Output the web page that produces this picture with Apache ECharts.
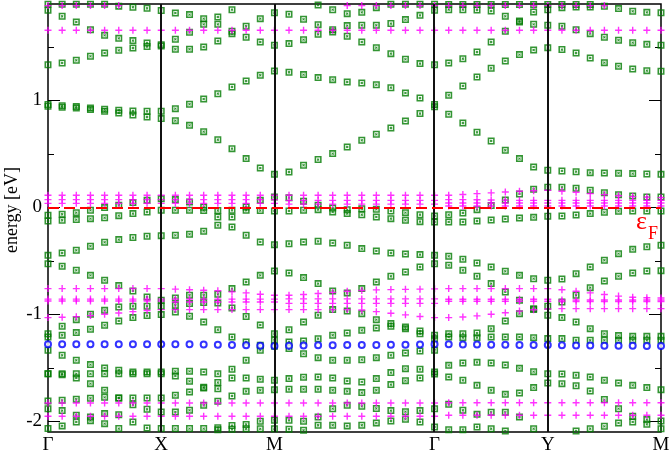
<!DOCTYPE html>
<html>
<head>
<meta charset="utf-8">
<title>band structure</title>
<script src="https://cdn.jsdelivr.net/npm/echarts@6/dist/echarts.min.js"></script>
<style>
  html, body { margin: 0; padding: 0; background: #fff; }
  #bandChart { width: 671px; height: 454px; }
</style>
</head>
<body>
<div id="bandChart"></div>
<script>
// k-path: Γ-X (8 steps), X-M (8), M-Γ (11), Γ-Y (8), Y-M (8)
var kPath = [
  0, 0.125, 0.25, 0.375, 0.5, 0.625, 0.75, 0.875, 1,
  1.125, 1.25, 1.375, 1.5, 1.625, 1.75, 1.875, 2,
  2.1286, 2.2571, 2.3857, 2.5143, 2.6428, 2.7714, 2.9, 3.0285, 3.1571, 3.2856, 3.4142,
  3.5392, 3.6642, 3.7892, 3.9142, 4.0392, 4.1642, 4.2892, 4.4142,
  4.5392, 4.6642, 4.7892, 4.9142, 5.0392, 5.1642, 5.2892, 5.4142
];
var kTicks = [0, 1, 2, 3.4142, 4.4142, 5.4142];
var kLabels = ['Γ', 'X', 'M', 'Γ', 'Y', 'M'];
var energyLabels = [-2, -1, 0, 1];
var energyMinor = [-1.5, -0.5, 0.5, 1.5];
var fermiLevel = 0;

// green bands (eV), one value per k point, null = not drawn
var band01 = [1.897, 1.897, 1.897, 1.897, 1.897, 1.880, 1.870, 1.860, 1.840,
  1.816, 1.801, 1.763, 1.710, 1.645, 1.589, 1.545, 1.514,
  1.530, 1.567, 1.617, 1.660, 1.698, 1.701, 1.701, 1.717, 1.754, 1.794, 1.841,
  1.847, 1.847, 1.844, 1.834, 1.785, 1.741, 1.710, 1.701,
  1.692, 1.660, 1.623, 1.589, 1.561, 1.539, 1.523, 1.514];
var band02 = [1.841, 1.785, 1.732, 1.660, 1.607, 1.579, 1.558, 1.536, 1.520,
  1.570, 1.636, 1.710, 1.779, 1.847, null, null, null,
  null, null, 1.890, 1.847, 1.810, 1.822, 1.866, 1.897, 1.897, 1.897, 1.897,
  1.895, 1.895, 1.895, 1.895, 1.895, 1.895, 1.895, 1.895,
  1.895, 1.895, 1.895, null, null, null, null, null];
var band03 = [1.333, 1.349, 1.374, 1.411, 1.442, 1.467, 1.489, 1.502, 1.508,
  1.477, 1.477, 1.498, 1.554, 1.623, 1.692, 1.763, 1.819,
  1.804, 1.757, 1.707, 1.639, 1.598, 1.545, 1.492, 1.436, 1.383, 1.343, 1.333,
  1.349, 1.389, 1.451, 1.545, 1.645, 1.732, 1.825, 1.847,
  1.866, 1.872, 1.872, 1.879, 1.857, 1.832, 1.822, 1.819];
var band04 = [0.960, 0.950, 0.941, 0.928, 0.916, 0.907, 0.900, 0.897, 0.897,
  0.922, 0.963, 1.012, 1.062, 1.125, 1.180, 1.234, 1.274,
  1.262, 1.240, 1.212, 1.193, 1.171, 1.162, 1.146, 1.118, 1.068, 1.021, 0.960,
  1.047, 1.134, 1.218, 1.299, 1.368, 1.427, 1.470, 1.492,
  1.474, 1.442, 1.396, 1.352, 1.318, 1.293, 1.277, 1.271];
var band05 = [0.944, 0.935, 0.928, 0.913, 0.897, 0.882, 0.863, 0.844, 0.829,
  0.810, 0.766, 0.707, 0.632, 0.548, 0.455, 0.367, 0.308,
  0.330, 0.393, 0.446, 0.502, 0.564, 0.626, 0.682, 0.741, 0.807, 0.876, 0.940,
  0.870, 0.788, 0.701, 0.620, 0.533, 0.455, 0.377, 0.346,
  0.340, 0.333, 0.324, 0.321, 0.318, 0.315, 0.312, 0.308];
var band06 = [-0.075, -0.065, -0.050, -0.028, -0.003, 0.019, 0.044, 0.065, 0.081,
  0.072, 0.050, 0.000, -0.090, -0.184, -0.262, -0.324, -0.349,
  -0.340, -0.324, -0.318, -0.333, -0.355, -0.386, -0.408, -0.427, -0.436, -0.442, -0.449,
  -0.458, -0.486, -0.520, -0.558, -0.598, -0.636, -0.667, -0.682,
  -0.670, -0.620, -0.558, -0.495, -0.433, -0.393, -0.368, -0.355];
var band07 = [-0.128, -0.121, -0.115, -0.106, -0.097, -0.078, -0.059, -0.044, -0.028,
  -0.028, -0.028, -0.030, -0.030, -0.028, -0.028, -0.030, -0.034,
  -0.034, -0.028, -0.022, -0.044, -0.059, -0.069, -0.090, -0.106, -0.121, -0.134, -0.137,
  -0.137, -0.137, -0.128, -0.118, -0.109, -0.100, -0.094, -0.084,
  -0.081, -0.072, -0.059, -0.047, -0.037, -0.034, -0.034, -0.034];
var band08 = [-0.449, -0.427, -0.402, -0.364, -0.327, -0.302, -0.283, -0.271, -0.265,
  -0.262, -0.252, -0.224, -0.168, -0.090, 0.003, 0.065, 0.096,
  0.090, 0.056, 0.019, -0.006, -0.022, -0.014, -0.019, -0.034, -0.050, -0.069, -0.081,
  -0.069, -0.053, -0.022, 0.016, 0.069, 0.125, 0.168, 0.187,
  0.187, 0.178, 0.159, 0.137, 0.118, 0.106, 0.096, 0.096];
var band09 = [-0.527, -0.551, -0.589, -0.636, -0.682, -0.732, -0.782, -0.838, -0.869,
  -0.848, -0.822, -0.822, -0.813, -0.760, -0.698, -0.636, -0.595,
  -0.614, -0.657, -0.713, -0.782, -0.800, -0.760, -0.698, -0.645, -0.605, -0.558, -0.527,
  -0.542, -0.589, -0.645, -0.713, -0.791, -0.869, -0.956, -1.009,
  -1.031, -1.072, -1.134, -1.181, -1.199, -1.206, -1.206, -1.206];
var band10 = [-1.181, -1.112, -1.050, -1.000, -0.963, -0.931, -0.925, -0.925, -0.925,
  -0.915, -0.900, -0.890, -0.895, -0.940, -1.020, -1.100, -1.181,
  -1.144, -1.072, -1.009, -0.956, -0.969, -0.994, -1.050, -1.087, -1.118, -1.156, -1.196,
  -1.181, -1.181, -1.175, -1.134, -1.062, -0.994, -0.947, -0.925,
  -0.885, -0.822, -0.751, -0.689, -0.645, -0.614, -0.595, -0.592];
var band11 = [-1.212, -1.196, -1.171, -1.140, -1.103, -1.062, -1.031, -1.012, -1.003,
  -0.978, -1.019, -1.072, -1.144, -1.212, -1.259, -1.290, -1.299,
  -1.259, -1.250, -1.228, -1.196, -1.175, -1.150, -1.128, -1.112, -1.134, -1.181, -1.228,
  -1.212, -1.218, -1.218, -1.212, -1.212, -1.212, -1.218, -1.227,
  -1.227, -1.243, -1.243, -1.243, -1.243, -1.243, -1.243, -1.243];
var band12 = [-1.336, -1.383, -1.430, -1.470, -1.502, -1.523, -1.539, -1.539, -1.539,
  -1.576, -1.626, -1.682, -1.695, null, null, null, null,
  -1.320, -1.368, -1.405, -1.430, -1.430, -1.424, -1.405, -1.383, -1.361, -1.343, -1.336,
  null, null, null, null, null, null, null, null,
  null, null, null, null, null, null, null, null];
var band13 = [-1.556, -1.556, -1.556, -1.556, -1.556, -1.556, -1.556, -1.556, -1.556,
  -1.533, -1.533, -1.539, -1.555, -1.514, -1.430, -1.336, -1.243,
  -1.601, -1.589, -1.586, -1.595, -1.623, -1.632, -1.601, -1.545, -1.508, -1.514, -1.539,
  -1.477, -1.455, -1.449, -1.455, -1.474, -1.505, -1.536, -1.555,
  -1.558, -1.570, -1.586, -1.617, -1.642, -1.664, -1.685, -1.704];
var band14 = [-1.555, -1.564, -1.595, -1.648, -1.710, -1.782, -1.845, -1.888, -1.913,
  -1.913, -1.897, -1.850, -1.813, -1.763, -1.720, -1.710, -1.704,
  -1.701, -1.701, -1.701, -1.710, -1.720, -1.732, -1.710, -1.657, -1.620, -1.595, -1.558,
  -1.586, -1.617, -1.664, -1.710, -1.748, -1.735, -1.685, -1.642,
  -1.648, -1.667, -1.717, -1.797, -1.882, -1.953, -1.984, -1.997];
var band15 = [-1.810, -1.804, -1.794, -1.785, -1.776, -1.782, -1.782, -1.782, -1.782,
  -1.757, -1.726, -1.688, -1.638, -1.595, -1.595, -1.607, -1.617,
  -1.991, -2.000, -1.960, -1.882, -1.850, -1.860, -1.880, -1.900, -1.910, -1.900, -1.882,
  -1.841, -1.897, -1.935, -1.916, -1.916, -1.960, -2.069, null,
  null, null, null, null, null, null, null, null];
var band16 = [-1.882, -1.900, -1.944, -1.960, -1.928, -1.938, -2.006, -2.062, -2.068,
  -2.068, -2.068, -2.068, -2.060, -2.040, -2.030, -2.000, -1.990,
  -2.074, -2.084, -2.037, -2.037, -2.043, -2.037, -2.015, -1.997, -1.981, -2.006, -2.053,
  -2.078, -2.078, -2.053, -2.069, -2.090, null, null, null,
  null, -2.090, -2.069, -2.047, -2.016, -2.006, -2.028, -2.069];
var band17 = [-2.068, -2.043, -2.006, -1.994, -2.022, -2.068, null, null, null,
  null, null, null, -2.080, -2.075, -2.070, -2.070, -2.070,
  null, null, null, null, null, null, null, null, null, null, null,
  null, null, null, null, null, null, null, null,
  null, null, null, null, null, null, null, null];

// magenta (+) bands
var pinkTop = [1.885, 1.885, 1.885, 1.885, 1.885, 1.885, null, null, null,
  null, null, null, null, null, null, null, null,
  null, null, null, null, 1.885, 1.885, 1.885, 1.885, 1.885, 1.885, 1.885,
  1.885, 1.885, 1.885, 1.885, 1.885, 1.885, 1.885, 1.885,
  1.885, 1.885, 1.885, 1.885, null, null, null, null];
var pink165 = [1.654, 1.654, 1.654, 1.654, 1.654, 1.654, 1.654, 1.654, 1.654,
  1.654, 1.654, 1.654, 1.654, 1.654, 1.654, 1.654, 1.654,
  1.654, 1.654, 1.654, 1.654, 1.654, 1.654, 1.654, 1.654, 1.654, 1.654, 1.654,
  1.654, 1.654, 1.654, 1.654, 1.654, 1.654, 1.654, 1.654,
  1.654, 1.654, 1.654, 1.654, 1.654, 1.654, 1.654, 1.654];
var pinkF1 = [0.112, 0.112, 0.112, 0.112, 0.112, 0.112, 0.112, 0.112, 0.112,
  0.112, 0.112, 0.112, 0.112, 0.112, 0.112, 0.112, 0.112,
  0.112, 0.112, 0.112, 0.112, 0.112, 0.112, 0.112, 0.112, 0.112, 0.112, 0.112,
  0.112, 0.120, 0.128, 0.135, 0.143, 0.150, 0.155, 0.159,
  0.150, 0.140, 0.128, 0.118, 0.108, 0.100, 0.095, 0.090];
var pinkF2 = [0.072, 0.072, 0.072, 0.072, 0.072, 0.072, 0.072, 0.072, 0.072,
  0.072, 0.072, 0.072, 0.072, 0.072, 0.072, 0.072, 0.072,
  0.065, 0.065, 0.065, 0.065, 0.065, 0.065, 0.065, 0.065, 0.065, 0.065, 0.065,
  0.072, 0.072, 0.070, 0.068, 0.067, 0.065, 0.065, 0.065,
  0.065, 0.065, 0.065, 0.065, 0.065, 0.065, 0.065, 0.065];
var pinkF3 = [0.037, 0.037, 0.037, 0.037, 0.037, 0.037, 0.037, 0.037, 0.037,
  0.037, 0.037, 0.037, 0.037, 0.037, 0.037, 0.037, 0.037,
  0.030, 0.030, 0.030, 0.030, 0.030, 0.030, 0.030, 0.030, 0.030, 0.030, 0.030,
  0.040, 0.040, 0.040, 0.040, 0.040, 0.040, 0.040, 0.040,
  0.040, 0.040, 0.040, 0.040, 0.040, 0.040, 0.040, 0.040];
var pinkF4 = [null, null, null, null, null, null, null, null, null,
  null, null, null, null, null, null, null, null,
  null, null, null, null, null, null, null, null, null, null, null,
  0.012, 0.012, 0.012, 0.012, 0.012, 0.012, 0.012, 0.012,
  0.012, 0.012, 0.012, 0.012, 0.012, 0.012, 0.012, 0.012];
var pinkA = [-0.760, -0.760, -0.760, -0.760, -0.760, -0.760, -0.760, -0.760, -0.760,
  -0.765, -0.770, -0.775, -0.780, -0.790, -0.800, -0.812, -0.822,
  -0.822, -0.815, -0.805, -0.795, -0.785, -0.778, -0.772, -0.769, -0.767, -0.765, -0.762,
  -0.760, -0.760, -0.760, -0.760, -0.760, -0.760, -0.760, -0.760,
  -0.770, -0.785, -0.800, -0.815, -0.830, -0.840, -0.845, -0.848];
var pinkB = [-0.858, -0.858, -0.858, -0.858, -0.858, -0.858, -0.858, -0.858, -0.858,
  -0.858, -0.858, -0.858, -0.858, -0.858, -0.858, -0.858, -0.858,
  -0.856, -0.856, -0.856, -0.856, -0.856, -0.856, -0.856, -0.856, -0.856, -0.856, -0.856,
  -0.860, -0.860, -0.860, -0.860, -0.860, -0.860, -0.860, -0.860,
  -0.866, -0.866, -0.866, -0.866, -0.866, -0.866, -0.866, -0.866];
var pinkB2 = [-0.876, -0.876, -0.876, -0.876, -0.876, -0.876, -0.876, -0.876, -0.876,
  -0.885, -0.885, -0.885, -0.885, -0.885, -0.885, -0.885, -0.885,
  -0.898, -0.898, -0.898, -0.898, -0.898, -0.898, -0.898, -0.898, -0.898, -0.898, -0.898,
  -0.878, -0.878, -0.878, -0.878, -0.878, -0.878, -0.878, -0.878,
  -0.880, -0.880, -0.880, -0.880, -0.880, -0.880, -0.880, -0.880];
var pinkC = [-1.031, -1.028, -1.022, -1.012, -1.000, -0.988, -0.975, -0.965, -0.956,
  -0.956, -0.956, -0.956, -0.956, -0.956, -0.956, -0.956, -0.956,
  -0.956, -0.956, -0.956, -0.956, -0.956, -0.960, -0.975, -0.990, -1.005, -1.020, -1.031,
  -1.031, -1.025, -1.015, -1.000, -0.985, -0.970, -0.958, -0.950,
  -0.947, -0.947, -0.947, -0.947, -0.947, -0.947, -0.947, -0.947];
var pinkD = [-1.829, -1.829, -1.829, -1.829, -1.829, -1.829, -1.829, -1.829, -1.829,
  -1.829, -1.829, -1.829, -1.829, -1.829, -1.829, -1.829, -1.829,
  -1.829, -1.829, -1.829, -1.829, -1.829, -1.829, -1.829, -1.829, -1.829, -1.829, -1.829,
  -1.826, -1.826, -1.826, -1.826, -1.826, -1.826, -1.826, -1.826,
  -1.826, -1.826, -1.826, -1.826, -1.826, -1.826, -1.826, -1.826];
var pinkE = [-1.953, -1.953, -1.953, -1.953, -1.953, -1.953, -1.953, -1.953, -1.953,
  -1.953, -1.953, -1.953, -1.953, -1.953, -1.953, -1.953, -1.953,
  -1.953, -1.953, -1.953, -1.953, -1.953, -1.953, -1.953, -1.953, -1.953, -1.953, -1.953,
  -1.944, -1.944, -1.944, -1.944, -1.944, -1.944, -1.944, -1.944,
  -1.944, -1.944, -1.944, -1.944, -1.944, -1.944, -1.944, -1.944];

// blue (o) band
var blueBand = [-1.280, -1.280, -1.280, -1.280, -1.280, -1.280, -1.280, -1.280, -1.280,
  -1.280, -1.280, -1.282, -1.284, -1.287, -1.290, -1.293, -1.296,
  -1.294, -1.292, -1.290, -1.289, -1.288, -1.287, -1.286, -1.285, -1.284, -1.282, -1.280,
  -1.281, -1.282, -1.283, -1.284, -1.285, -1.286, -1.287, -1.288,
  -1.289, -1.291, -1.292, -1.293, -1.294, -1.295, -1.296, -1.296];

var greenBands = [band01, band02, band03, band04, band05, band06, band07, band08, band09,
  band10, band11, band12, band13, band14, band15, band16, band17];
var pinkBands = [pinkTop, pink165, pinkF1, pinkF2, pinkF3, pinkF4, pinkA, pinkB, pinkB2, pinkC, pinkD, pinkE];

document.addEventListener("DOMContentLoaded", function () {
  var chart = echarts.init(document.getElementById('bandChart'));
  var serif = 'Liberation Serif';

  // 把每条能带转成 [k, E] 点
  function toPoints(bands) {
    var pts = [];
    bands.forEach(function (band) {
      band.forEach(function (e, i) {
        if (e !== null) pts.push([kPath[i], e]);
      });
    });
    return pts;
  }

  var squareX = 'path://M0,0H10V10H0Z M2.2,2.2V7.8H7.8V2.2Z M3,4L4,3L5,4L6,3L7,4L6,5L7,6L6,7L5,6L4,7L3,6L4,5Z';
  var plus = 'path://M4,0H6V4H10V6H6V10H4V6H0V4H4Z';

  function tickAxis(pos, values, len, withLabel) {
    return {
      type: 'value', min: -2.1, max: 1.9, position: pos,
      axisLine: { show: false },
      splitLine: { show: false },
      axisTick: { show: true, inside: true, length: len, customValues: values,
        lineStyle: { color: '#000', width: 1 } },
      axisLabel: withLabel ? {
        show: true, customValues: values, color: '#000',
        fontFamily: serif, fontSize: 19, margin: 6
      } : { show: false }
    };
  }

  var option = {
    animation: false,
    grid: {
      left: 48, right: 10, top: 4, bottom: 22,
      containLabel: false, outerBoundsMode: 'none',
      show: true, borderColor: '#000', borderWidth: 1.5
    },
    xAxis: {
      type: 'value', min: 0, max: kTicks[kTicks.length - 1],
      axisLine: { show: false }, axisTick: { show: false }, splitLine: { show: false },
      axisLabel: {
        customValues: kTicks, color: '#000', fontFamily: serif, fontSize: 19, margin: 4,
        formatter: function (v) {
          for (var i = 0; i < kTicks.length; i++) {
            if (Math.abs(v - kTicks[i]) < 1e-6) return kLabels[i];
          }
          return '';
        }
      }
    },
    yAxis: [
      tickAxis('left', energyLabels, 12, true),
      tickAxis('left', energyMinor, 6, false),
      tickAxis('right', energyLabels, 12, false),
      tickAxis('right', energyMinor, 6, false)
    ],
    graphic: [
      // 纵轴标题
      { type: 'text', x: 12, y: 210, rotation: Math.PI / 2, z: 100,
        style: { text: 'energy [eV]', font: '18px "Liberation Serif"', fill: '#000',
          textAlign: 'center', textVerticalAlign: 'middle' } },
      { type: 'text', x: 636, y: 222, z: 100,
        style: { text: 'ε', font: '26px "Liberation Serif"', fill: '#ff0000', textVerticalAlign: 'middle' } },
      { type: 'text', x: 648, y: 234, z: 100,
        style: { text: 'F', font: '18px "Liberation Serif"', fill: '#ff0000', textVerticalAlign: 'middle' } }
    ],
    series: [
      {
        // 高对称点竖线
        type: 'line', data: [], z: 1, silent: true,
        markLine: {
          silent: true, symbol: 'none', label: { show: false }, animation: false,
          lineStyle: { color: '#111', width: 2, type: 'solid' },
          data: kTicks.slice(1, kTicks.length - 1).map(function (v) { return { xAxis: v }; })
        }
      },
      {
        type: 'scatter', data: toPoints(greenBands), symbol: squareX, symbolSize: 7,
        itemStyle: { color: '#007a00' }, z: 2, silent: true, clip: true
      },
      {
        type: 'scatter', data: toPoints(pinkBands), symbol: plus, symbolSize: 7,
        itemStyle: { color: '#ff00ff' }, z: 3, silent: true, clip: true
      },
      {
        type: 'scatter', data: toPoints([blueBand]), symbol: 'emptyCircle', symbolSize: 6,
        itemStyle: { color: '#0000ff', borderWidth: 1.5 }, z: 4, silent: true, clip: true
      },
      {
        // 费米能级
        type: 'line', data: [], z: 5, silent: true,
        markLine: {
          silent: true, symbol: 'none', label: { show: false }, animation: false,
          lineStyle: { color: '#ff0000', width: 2, type: [11, 5] },
          data: [{ yAxis: fermiLevel }]
        }
      }
    ]
  };

  chart.setOption(option);

  window.addEventListener('resize', function () {
    chart.resize();
  });
});
</script>
</body>
</html>
